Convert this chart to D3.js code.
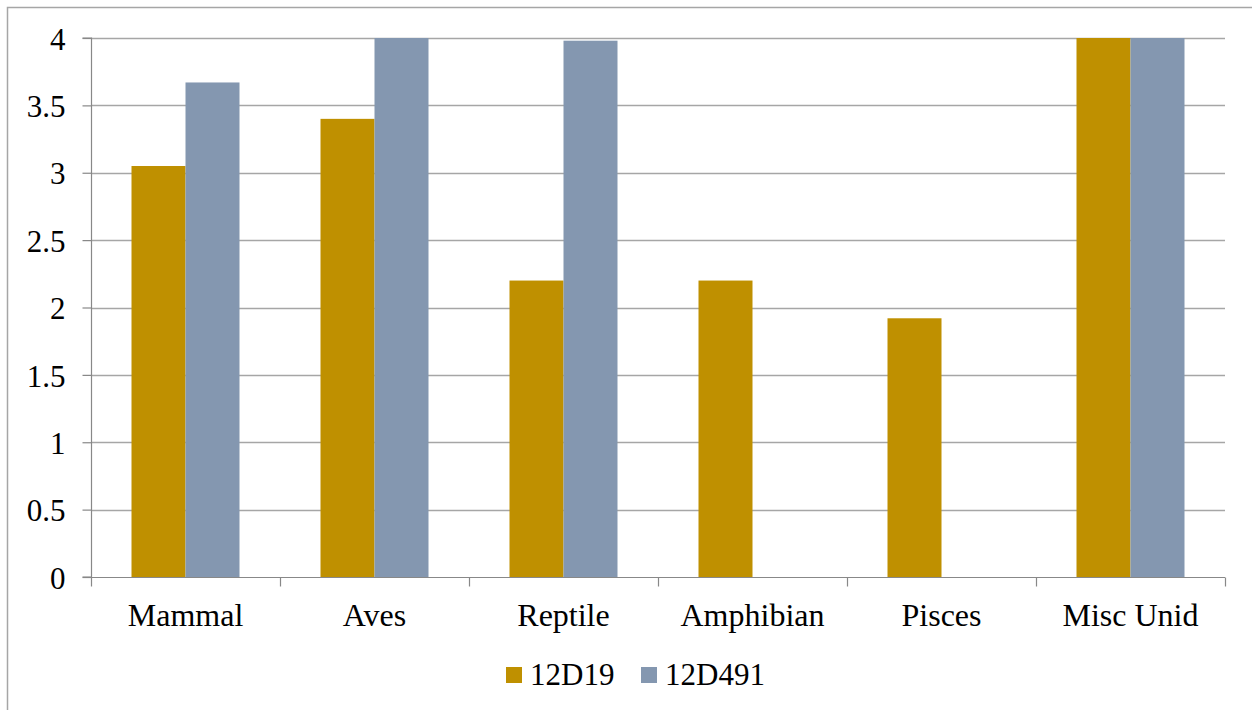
<!DOCTYPE html>
<html><head><meta charset="utf-8">
<script src="https://cdn.jsdelivr.net/npm/d3@7"></script>
<style>body{margin:0;background:#fff}svg{display:block}svg text{font-family:"Liberation Serif","Times New Roman",serif !important;}</style>
</head><body>
<svg id="c" width="1252" height="710"></svg>
<script>
const categories = ["Mammal","Aves","Reptile","Amphibian","Pisces","Misc Unid"];
const seriesNames = ["12D19","12D491"];
const s12D19 = [3.05, 3.4, 2.2, 2.2, 1.92, 4];
const s12D491 = [3.67, 4, 3.98, 0, 0, 4];
const yTicks = [0,0.5,1,1.5,2,2.5,3,3.5,4];
const colors = ["#BF9000","#8497B0"];

const svg = d3.select("#c");
svg.append("rect").attr("x",7.5).attr("y",7.5).attr("width",1260).attr("height",720)
  .attr("fill","none").attr("stroke","#A6A6A6").attr("stroke-width",1.5);

const L=91, R=1225, T=38, B=577;
const y = d3.scaleLinear().domain([0,4]).range([B,T]);
const x0 = d3.scaleBand().domain(categories).range([L,R]).paddingInner(0).paddingOuter(0);
const x1 = d3.scaleBand().domain(seriesNames).range([0,x0.bandwidth()]).paddingInner(0).paddingOuter(0.75);

svg.append("g").selectAll("line").data(yTicks.filter(d=>d>0)).join("line")
  .attr("x1",L).attr("x2",R).attr("y1",d=>Math.round(y(d))+0.5).attr("y2",d=>Math.round(y(d))+0.5)
  .attr("stroke","#A6A6A6").attr("stroke-width",1.5);

const data = [s12D19, s12D491];
seriesNames.forEach((s,si)=>{
  svg.append("g").selectAll("rect").data(categories).join("rect")
    .attr("x",c=>x0(c)+x1(s)).attr("width",x1.bandwidth())
    .attr("y",(c,i)=>y(data[si][i])).attr("height",(c,i)=>B-y(data[si][i]))
    .attr("fill",colors[si]);
});

const yAxis = d3.axisLeft(y).tickValues(yTicks).tickSize(9).tickPadding(17).tickFormat(d3.format("~g"));
const gy = svg.append("g").attr("transform",`translate(${L+0.5},0)`).call(yAxis);
gy.select(".domain").attr("stroke","#888").attr("stroke-width",1.2).attr("d",`M-9,${T}H0V${B}H-9`);
gy.selectAll(".tick line").attr("stroke","#888").attr("stroke-width",1.2);
gy.selectAll("text").attr("font-size",31).attr("fill","#000").attr("dy","0.36em");

const gx = svg.append("g").attr("transform",`translate(0,${B+0.5})`);
gx.append("line").attr("x1",L).attr("x2",R).attr("stroke","#888").attr("stroke-width",1.2);
const bounds = categories.map(c=>x0(c)).concat([R]);
gx.selectAll("line.t").data(bounds).join("line").attr("class","t")
  .attr("x1",d=>Math.round(d)+0.5).attr("x2",d=>Math.round(d)+0.5).attr("y1",0).attr("y2",9)
  .attr("stroke","#888").attr("stroke-width",1.2);
gx.selectAll("text").data(categories).join("text")
  .attr("x",c=>x0(c)+x0.bandwidth()/2).attr("y",48).attr("text-anchor","middle")
  .attr("font-size",32).attr("fill","#000").text(c=>c);

const leg = svg.append("g");
const legX = [506, 641];
seriesNames.forEach((s,i)=>{
  leg.append("rect").attr("x",legX[i]).attr("y",667).attr("width",16).attr("height",16).attr("fill",colors[i]);
  leg.append("text").attr("x",legX[i]+24).attr("y",685).attr("font-size",31)
    .attr("fill","#000").text(s);
});
</script>
</body></html>
